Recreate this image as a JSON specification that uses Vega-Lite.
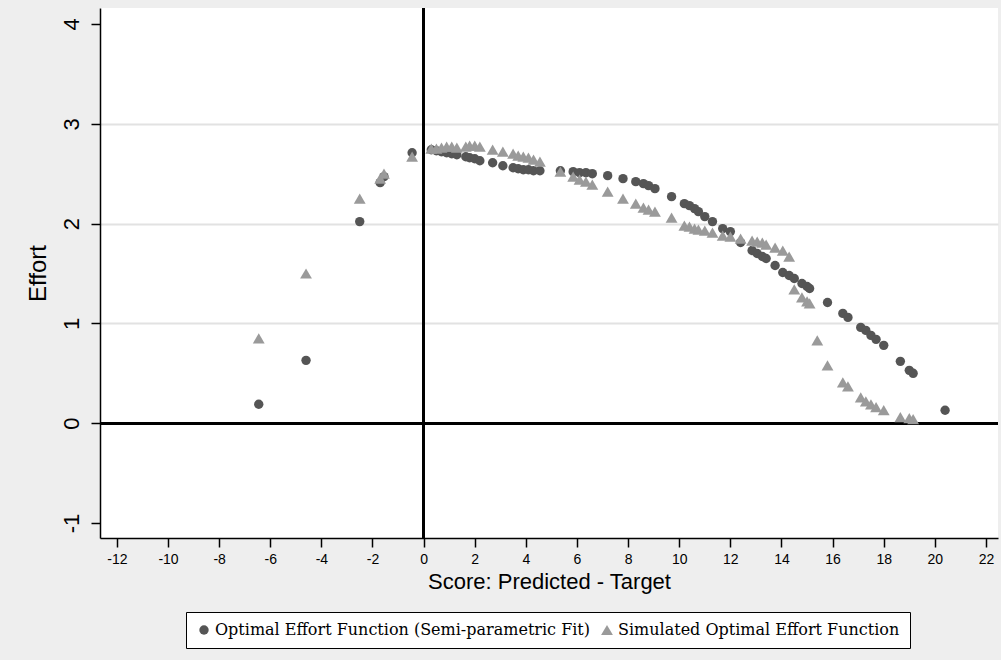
{
  "$schema": "https://vega.github.io/schema/vega-lite/v6.json",
  "width": 898,
  "height": 530,
  "autosize": {"type": "none"},
  "padding": {"left": 100, "top": 8, "right": 3, "bottom": 122},
  "background": "#eeeeee",
  "config": {"view": {"stroke": null, "fill": "white"}},
  "data": {"values": [
    {"x": -6.45, "y": 0.19, "s": "c"}, {"x": -4.6, "y": 0.63, "s": "c"}, {"x": -2.5, "y": 2.02, "s": "c"},
    {"x": -1.7, "y": 2.41, "s": "c"}, {"x": -1.55, "y": 2.47, "s": "c"}, {"x": -0.45, "y": 2.71, "s": "c"},
    {"x": 0.3, "y": 2.74, "s": "c"}, {"x": 0.5, "y": 2.73, "s": "c"}, {"x": 0.7, "y": 2.72, "s": "c"},
    {"x": 0.9, "y": 2.71, "s": "c"}, {"x": 1.1, "y": 2.7, "s": "c"}, {"x": 1.3, "y": 2.69, "s": "c"},
    {"x": 1.65, "y": 2.67, "s": "c"}, {"x": 1.8, "y": 2.66, "s": "c"}, {"x": 2.0, "y": 2.65, "s": "c"},
    {"x": 2.2, "y": 2.63, "s": "c"}, {"x": 2.7, "y": 2.61, "s": "c"}, {"x": 3.1, "y": 2.58, "s": "c"},
    {"x": 3.5, "y": 2.56, "s": "c"}, {"x": 3.7, "y": 2.55, "s": "c"}, {"x": 3.9, "y": 2.54, "s": "c"},
    {"x": 4.1, "y": 2.54, "s": "c"}, {"x": 4.3, "y": 2.53, "s": "c"}, {"x": 4.55, "y": 2.53, "s": "c"},
    {"x": 5.35, "y": 2.53, "s": "c"}, {"x": 5.85, "y": 2.52, "s": "c"}, {"x": 6.1, "y": 2.51, "s": "c"},
    {"x": 6.35, "y": 2.51, "s": "c"}, {"x": 6.6, "y": 2.5, "s": "c"}, {"x": 7.2, "y": 2.48, "s": "c"},
    {"x": 7.8, "y": 2.45, "s": "c"}, {"x": 8.3, "y": 2.42, "s": "c"}, {"x": 8.6, "y": 2.4, "s": "c"},
    {"x": 8.8, "y": 2.38, "s": "c"}, {"x": 9.05, "y": 2.35, "s": "c"}, {"x": 9.7, "y": 2.27, "s": "c"},
    {"x": 10.2, "y": 2.2, "s": "c"}, {"x": 10.4, "y": 2.18, "s": "c"}, {"x": 10.6, "y": 2.15, "s": "c"},
    {"x": 10.75, "y": 2.12, "s": "c"}, {"x": 11.0, "y": 2.07, "s": "c"}, {"x": 11.3, "y": 2.02, "s": "c"},
    {"x": 11.7, "y": 1.95, "s": "c"}, {"x": 12.0, "y": 1.92, "s": "c"}, {"x": 12.4, "y": 1.81, "s": "c"},
    {"x": 12.85, "y": 1.73, "s": "c"}, {"x": 13.05, "y": 1.7, "s": "c"}, {"x": 13.25, "y": 1.67, "s": "c"},
    {"x": 13.4, "y": 1.65, "s": "c"}, {"x": 13.75, "y": 1.58, "s": "c"}, {"x": 14.05, "y": 1.51, "s": "c"},
    {"x": 14.3, "y": 1.48, "s": "c"}, {"x": 14.5, "y": 1.45, "s": "c"}, {"x": 14.8, "y": 1.4, "s": "c"},
    {"x": 15.0, "y": 1.37, "s": "c"}, {"x": 15.1, "y": 1.35, "s": "c"}, {"x": 15.8, "y": 1.21, "s": "c"},
    {"x": 16.4, "y": 1.1, "s": "c"}, {"x": 16.6, "y": 1.06, "s": "c"}, {"x": 17.1, "y": 0.96, "s": "c"},
    {"x": 17.3, "y": 0.93, "s": "c"}, {"x": 17.5, "y": 0.88, "s": "c"}, {"x": 17.7, "y": 0.84, "s": "c"},
    {"x": 18.0, "y": 0.78, "s": "c"}, {"x": 18.65, "y": 0.62, "s": "c"}, {"x": 19.0, "y": 0.53, "s": "c"},
    {"x": 19.15, "y": 0.5, "s": "c"}, {"x": 20.4, "y": 0.13, "s": "c"},
    {"x": -6.45, "y": 0.85, "s": "t"}, {"x": -4.6, "y": 1.5, "s": "t"}, {"x": -2.5, "y": 2.25, "s": "t"},
    {"x": -1.7, "y": 2.45, "s": "t"}, {"x": -1.55, "y": 2.5, "s": "t"}, {"x": -0.45, "y": 2.67, "s": "t"},
    {"x": 0.3, "y": 2.75, "s": "t"}, {"x": 0.5, "y": 2.75, "s": "t"}, {"x": 0.7, "y": 2.76, "s": "t"},
    {"x": 0.9, "y": 2.77, "s": "t"}, {"x": 1.1, "y": 2.77, "s": "t"}, {"x": 1.3, "y": 2.76, "s": "t"},
    {"x": 1.65, "y": 2.77, "s": "t"}, {"x": 1.8, "y": 2.78, "s": "t"}, {"x": 2.0, "y": 2.78, "s": "t"},
    {"x": 2.2, "y": 2.77, "s": "t"}, {"x": 2.7, "y": 2.74, "s": "t"}, {"x": 3.1, "y": 2.72, "s": "t"},
    {"x": 3.5, "y": 2.7, "s": "t"}, {"x": 3.7, "y": 2.68, "s": "t"}, {"x": 3.9, "y": 2.67, "s": "t"},
    {"x": 4.1, "y": 2.66, "s": "t"}, {"x": 4.3, "y": 2.64, "s": "t"}, {"x": 4.55, "y": 2.62, "s": "t"},
    {"x": 5.35, "y": 2.52, "s": "t"}, {"x": 5.85, "y": 2.47, "s": "t"}, {"x": 6.1, "y": 2.44, "s": "t"},
    {"x": 6.35, "y": 2.42, "s": "t"}, {"x": 6.6, "y": 2.39, "s": "t"}, {"x": 7.2, "y": 2.32, "s": "t"},
    {"x": 7.8, "y": 2.25, "s": "t"}, {"x": 8.3, "y": 2.2, "s": "t"}, {"x": 8.6, "y": 2.16, "s": "t"},
    {"x": 8.8, "y": 2.14, "s": "t"}, {"x": 9.05, "y": 2.12, "s": "t"}, {"x": 9.7, "y": 2.06, "s": "t"},
    {"x": 10.2, "y": 1.98, "s": "t"}, {"x": 10.4, "y": 1.97, "s": "t"}, {"x": 10.6, "y": 1.95, "s": "t"},
    {"x": 10.75, "y": 1.94, "s": "t"}, {"x": 11.0, "y": 1.93, "s": "t"}, {"x": 11.3, "y": 1.91, "s": "t"},
    {"x": 11.7, "y": 1.88, "s": "t"}, {"x": 12.0, "y": 1.87, "s": "t"}, {"x": 12.4, "y": 1.85, "s": "t"},
    {"x": 12.85, "y": 1.83, "s": "t"}, {"x": 13.05, "y": 1.82, "s": "t"}, {"x": 13.25, "y": 1.81, "s": "t"},
    {"x": 13.4, "y": 1.79, "s": "t"}, {"x": 13.75, "y": 1.76, "s": "t"}, {"x": 14.05, "y": 1.73, "s": "t"},
    {"x": 14.3, "y": 1.67, "s": "t"}, {"x": 14.5, "y": 1.34, "s": "t"}, {"x": 14.8, "y": 1.26, "s": "t"},
    {"x": 15.0, "y": 1.22, "s": "t"}, {"x": 15.1, "y": 1.2, "s": "t"}, {"x": 15.4, "y": 0.83, "s": "t"},
    {"x": 15.8, "y": 0.58, "s": "t"}, {"x": 16.4, "y": 0.41, "s": "t"}, {"x": 16.6, "y": 0.37, "s": "t"},
    {"x": 17.1, "y": 0.26, "s": "t"}, {"x": 17.3, "y": 0.22, "s": "t"}, {"x": 17.5, "y": 0.19, "s": "t"},
    {"x": 17.7, "y": 0.16, "s": "t"}, {"x": 18.0, "y": 0.13, "s": "t"}, {"x": 18.65, "y": 0.06, "s": "t"},
    {"x": 19.0, "y": 0.05, "s": "t"}, {"x": 19.15, "y": 0.04, "s": "t"}
  ]},
  "layer": [
    {
      "mark": {"type": "rule", "color": "black", "strokeWidth": 2},
      "encoding": {"x": {"datum": 0, "type": "quantitative"}}
    },
    {
      "mark": {"type": "rule", "color": "black", "strokeWidth": 2},
      "encoding": {"y": {"datum": 0, "type": "quantitative"}}
    },
    {
      "mark": {"type": "point", "filled": true, "opacity": 1},
      "encoding": {
        "x": {
          "field": "x", "type": "quantitative",
          "scale": {"domain": [-12.66, 22.47], "nice": false, "zero": false},
          "axis": {
            "values": [-12, -10, -8, -6, -4, -2, 0, 2, 4, 6, 8, 10, 12, 14, 16, 18, 20, 22],
            "labelExpr": "'' + datum.value",
            "title": "Score: Predicted - Target",
            "titleFont": "Liberation Sans", "titleFontSize": 22, "titleFontWeight": "normal", "titleColor": "black",
            "titlePadding": 5,
            "labelFont": "Liberation Sans", "labelFontSize": 14, "labelColor": "black", "labelPadding": 5,
            "tickSize": 9, "tickColor": "black", "tickWidth": 1.5,
            "domainColor": "black", "domainWidth": 1.5, "grid": false, "labelFlush": false
          }
        },
        "y": {
          "field": "y", "type": "quantitative",
          "scale": {"domain": [-1.15, 4.16], "nice": false, "zero": false},
          "axis": {
            "values": [-1, 0, 1, 2, 3, 4],
            "labelExpr": "'' + datum.value",
            "title": "Effort",
            "titleFont": "Liberation Sans", "titleFontSize": 24, "titleFontWeight": "normal", "titleColor": "black",
            "titlePadding": 10,
            "labelFont": "Liberation Sans", "labelFontSize": 22, "labelColor": "black", "labelAngle": -90,
            "labelAlign": "center", "labelBaseline": "bottom", "labelPadding": 8,
            "tickSize": 9, "tickColor": "black", "tickWidth": 1.5,
            "domainColor": "black", "domainWidth": 1.5, "labelFlush": false,
            "grid": true, "gridColor": "#e2e2e2", "gridWidth": 2,
            "gridOpacity": {"condition": {"test": "datum.value >= 1 && datum.value <= 3", "value": 1}, "value": 0}
          }
        },
        "size": {
          "field": "s", "type": "nominal",
          "scale": {"domain": ["c", "t"], "range": [88, 140]},
          "legend": null
        },
        "color": {
          "field": "s", "type": "nominal",
          "scale": {"domain": ["c", "t"], "range": ["#555555", "#9a9a9a"]},
          "legend": {
            "orient": "none", "legendX": 86, "legendY": 604,
            "direction": "horizontal", "title": null,
            "labelExpr": "datum.value == 'c' ? 'Optimal Effort Function (Semi-parametric Fit)' : 'Simulated Optimal Effort Function'",
            "labelFont": "DejaVu Serif", "labelFontSize": 16, "labelColor": "black", "labelLimit": 0,
            "strokeColor": "black", "fillColor": "white", "padding": 10,
            "symbolSize": 70, "symbolOpacity": 1, "columnPadding": 8, "labelOffset": 3
          }
        },
        "shape": {
          "field": "s", "type": "nominal",
          "scale": {"domain": ["c", "t"], "range": ["circle", "triangle-up"]},
          "legend": null
        }
      }
    }
  ]
}
